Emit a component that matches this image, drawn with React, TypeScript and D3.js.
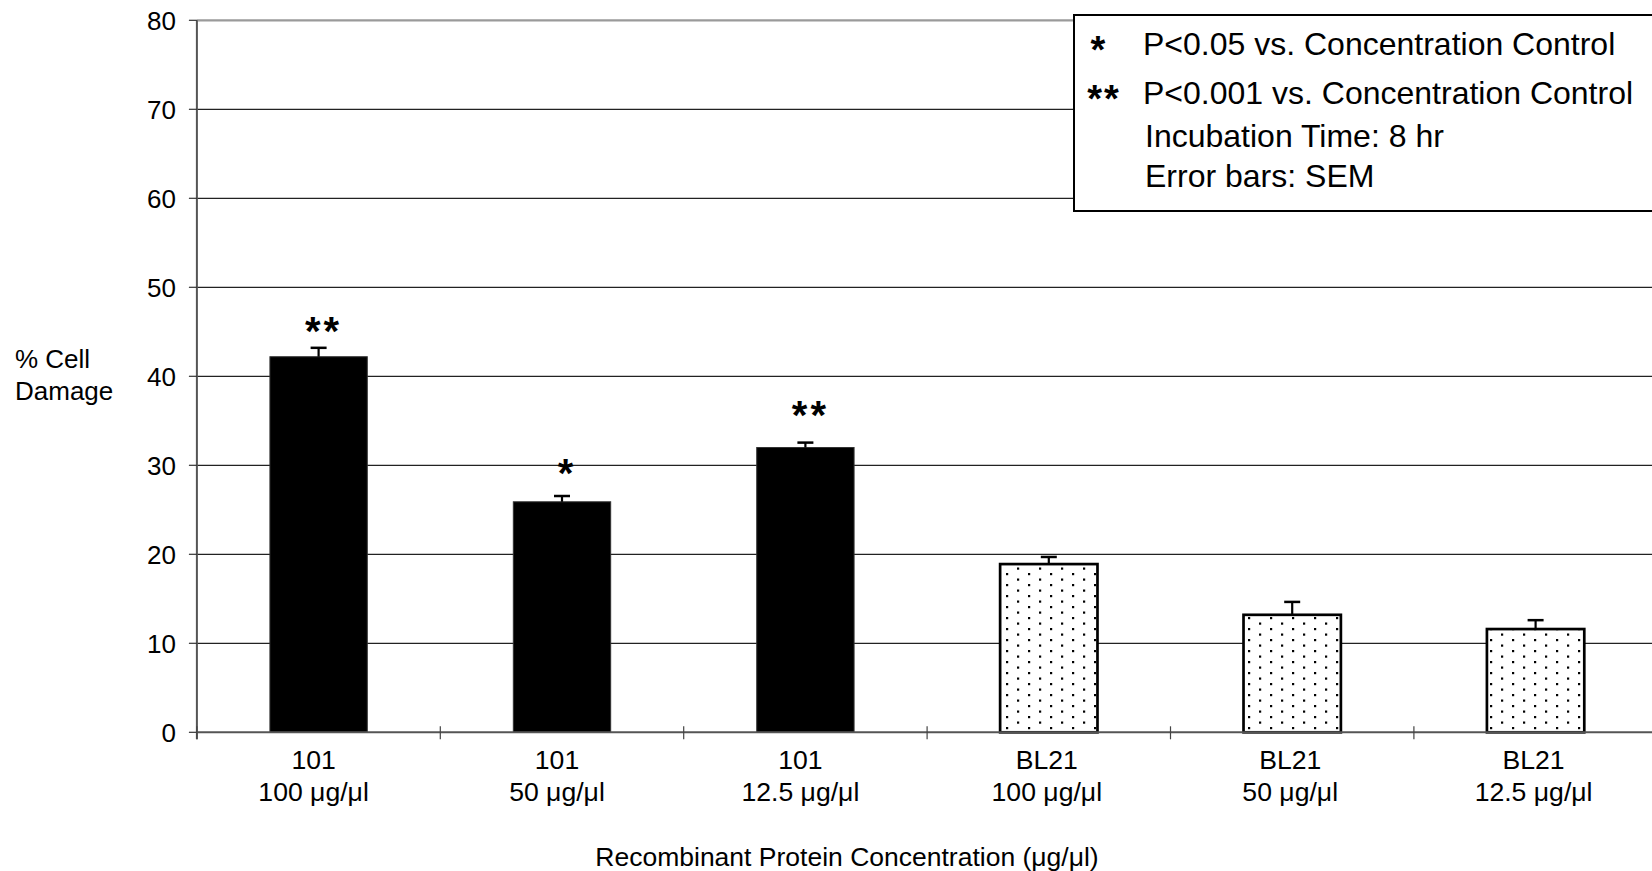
import React from "react";
import * as d3 from "d3";

// Cell damage after 8 hr incubation with recombinant protein
const strains = ["101", "101", "101", "BL21", "BL21", "BL21"];
const concentrations = ["100 μg/μl", "50 μg/μl", "12.5 μg/μl", "100 μg/μl", "50 μg/μl", "12.5 μg/μl"];
const damage = [42.2, 25.9, 32.0, 18.9, 13.2, 11.6];
const sem = [1.0, 0.65, 0.55, 0.8, 1.45, 1.0];
const sigMarks = ["**", "*", "**", "", "", ""];
const sigLevels = [46.0, 30.0, 36.5, 0, 0, 0];
const yTicks = [0, 10, 20, 30, 40, 50, 60, 70, 80];
const legendSig = [
  { mark: "*", text: "P<0.05 vs. Concentration Control" },
  { mark: "**", text: "P<0.001 vs. Concentration Control" },
];
const legendNotes = ["Incubation Time: 8 hr", "Error bars: SEM"];

const W = 1652;
const H = 871;
const FONT = "'Liberation Sans', Arial, Helvetica, sans-serif";

export default function App() {
  const plotLeft = 196.9;
  const step = 243.4;
  const plotRight = plotLeft + step * strains.length;
  const plotTop = 20.3;
  const plotBottom = 732.3;

  const keys = strains.map((s, i) => `${s}-${i}`);
  const x = d3
    .scaleBand<string>()
    .domain(keys)
    .range([plotLeft, plotRight])
    .paddingInner(0.6)
    .paddingOuter(0.3);
  const y = d3.scaleLinear().domain([0, 80]).range([plotBottom, plotTop]);
  const bw = x.bandwidth();

  const boundaries = d3.range(strains.length + 1).map((i) => plotLeft + i * step);

  return (
    <svg
      width={W}
      height={H}
      style={{ position: "absolute", left: 0, top: 0, background: "#fff" }}
      fontFamily={FONT}
    >
      <defs>
        <pattern id="dots" patternUnits="userSpaceOnUse" x={0} y={0} width={22} height={11}>
          <rect width={22} height={11} fill="#fff" />
          <rect x={16} y={1} width={2.2} height={2.2} fill="#000" />
          <rect x={5} y={6.5} width={2.2} height={2.2} fill="#000" />
        </pattern>
      </defs>

      {/* horizontal gridlines */}
      {yTicks
        .filter((t) => t > 0 && t < 80)
        .map((t) => (
          <line key={t} x1={plotLeft} x2={W + 10} y1={y(t)} y2={y(t)} stroke="#222" strokeWidth={1.2} />
        ))}
      {/* plot area top border */}
      <line x1={plotLeft} x2={W + 10} y1={y(80)} y2={y(80)} stroke="#9a9a9a" strokeWidth={2.2} />

      {/* y axis */}
      <line x1={plotLeft} x2={plotLeft} y1={plotTop} y2={plotBottom + 7} stroke="#555" strokeWidth={2} />
      {yTicks.map((t) => (
        <g key={t}>
          <line x1={plotLeft - 8} x2={plotLeft} y1={y(t)} y2={y(t)} stroke="#333" strokeWidth={1.2} />
          <text x={176} y={y(t) + 9.3} textAnchor="end" fontSize={26} fill="#000">
            {t}
          </text>
        </g>
      ))}
      <text x={15} y={368} fontSize={26} fill="#000">% Cell</text>
      <text x={15} y={400} fontSize={26} fill="#000">Damage</text>

      {/* bars */}
      {keys.map((k, i) => {
        const x0 = x(k)!;
        const top = y(damage[i]);
        const isControl = strains[i] === "BL21";
        return (
          <rect
            key={k}
            x={x0}
            y={top}
            width={bw}
            height={plotBottom - top}
            fill={isControl ? "url(#dots)" : "#000"}
            stroke={isControl ? "#000" : "#333"}
            strokeWidth={isControl ? 2.7 : 1}
          />
        );
      })}

      {/* x axis */}
      <line x1={plotLeft} x2={W + 10} y1={plotBottom} y2={plotBottom} stroke="#555" strokeWidth={2} />
      {boundaries.map((bx, i) => (
        <line key={i} x1={bx} x2={bx} y1={plotBottom - 6} y2={plotBottom + 7} stroke="#444" strokeWidth={1.2} />
      ))}

      {/* error bars (SEM, upper) */}
      {keys.map((k, i) => {
        const cx = x(k)! + bw / 2;
        const yTop = y(damage[i] + sem[i]);
        return (
          <g key={k} stroke="#000">
            <line x1={cx} x2={cx} y1={y(damage[i])} y2={yTop} strokeWidth={2.2} />
            <line x1={cx - 8} x2={cx + 8} y1={yTop} y2={yTop} strokeWidth={2.5} />
          </g>
        );
      })}

      {/* significance marks */}
      {keys.map((k, i) =>
        sigMarks[i] ? (
          <text
            key={k}
            x={x(k)! + bw / 2 + 5}
            y={y(sigLevels[i]) + 22}
            textAnchor="middle"
            fontSize={40}
            fontWeight="bold"
            letterSpacing={3}
            fill="#000"
          >
            {sigMarks[i]}
          </text>
        ) : null
      )}

      {/* category labels */}
      {keys.map((k, i) => {
        const cx = x(k)! + bw / 2 - (strains[i] === "101" ? 5 : 2);
        return (
          <g key={k}>
            <text x={cx} y={769} textAnchor="middle" fontSize={26.6} fill="#000">
              {strains[i]}
            </text>
            <text x={cx} y={801} textAnchor="middle" fontSize={26.6} fill="#000">
              {concentrations[i]}
            </text>
          </g>
        );
      })}
      <text x={847} y={866} textAnchor="middle" fontSize={26.5} fill="#000">
        Recombinant Protein Concentration (μg/μl)
      </text>

      {/* legend */}
      <rect x={1074} y={15} width={700} height={196} fill="#fff" stroke="#000" strokeWidth={2} />
      {legendSig.map((d, i) => (
        <g key={d.mark}>
          <text
            x={d.mark.length > 1 ? 1104 : 1099}
            y={i === 0 ? 63 : 111.5}
            textAnchor="middle"
            fontSize={38}
            fontWeight="bold"
            letterSpacing={2}
            fill="#000"
          >
            {d.mark}
          </text>
          <text x={1143} y={i === 0 ? 54.5 : 104} fontSize={32} fill="#000">
            {d.text}
          </text>
        </g>
      ))}
      {legendNotes.map((t, i) => (
        <text key={t} x={1145} y={147 + i * 40} fontSize={32} fill="#000">
          {t}
        </text>
      ))}
    </svg>
  );
}
